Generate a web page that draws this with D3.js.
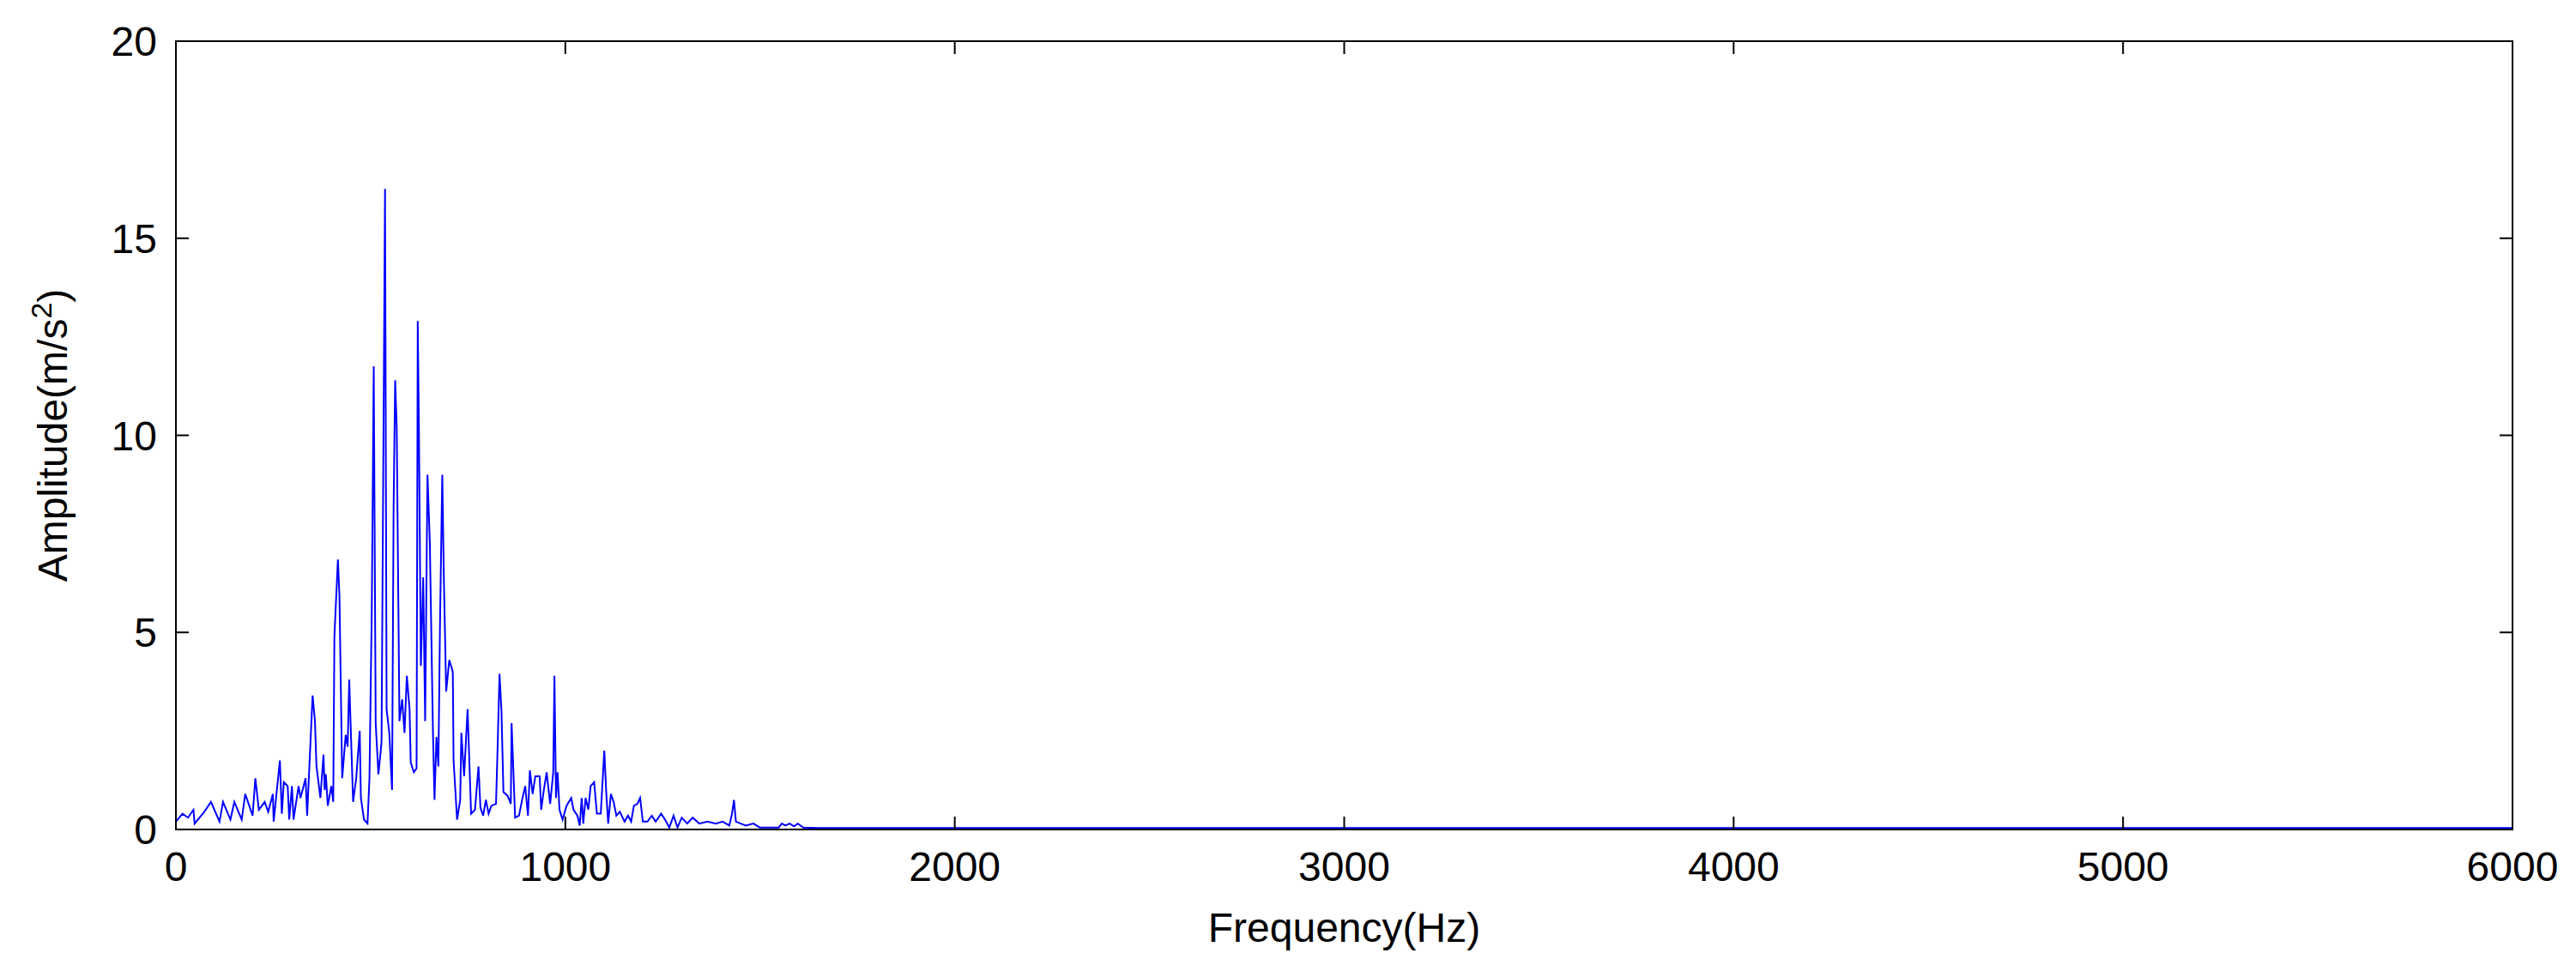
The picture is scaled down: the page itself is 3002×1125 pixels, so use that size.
<!DOCTYPE html>
<html><head><meta charset="utf-8">
<script src="https://cdn.jsdelivr.net/npm/d3@7"></script>
<style>body{margin:0;background:#fff}</style></head>
<body><svg id="c" width="3002" height="1125"></svg>
<script>
const freqs=[0,17,31,45,48,73,90,112,121,140,150,169,178,197,204,213,228,237,249,251,267,272,277,287,291,298,302,315,320,333,337,351,357,361,371,379,382,385,390,399,404,407,416,420,427,436,441,445,455,463,472,475,483,492,497,503,508,513,520,528,534,537,541,548,555,559,563,567,574,581,587,593,600,603,611,618,621,624,629,635,640,646,652,660,664,669,674,678,684,688,694,702,711,713,722,730,733,740,749,758,768,777,782,789,796,803,810,822,826,831,836,841,852,860,862,871,881,890,897,904,909,916,923,934,938,944,952,961,969,972,976,980,985,993,1003,1015,1021,1031,1037,1042,1046,1052,1059,1065,1074,1081,1091,1100,1105,1110,1117,1124,1131,1140,1152,1161,1169,1176,1185,1192,1199,1211,1222,1232,1246,1256,1267,1278,1288,1299,1313,1327,1344,1365,1386,1404,1421,1428,1433,1438,1463,1483,1499,1548,1556,1565,1576,1587,1597,1611,1650,6000];
const amps=[0.2,0.4,0.3,0.5,0.15,0.45,0.7,0.2,0.7,0.25,0.7,0.25,0.9,0.35,1.3,0.5,0.7,0.45,0.9,0.2,1.75,0.4,1.2,1.1,0.25,1.1,0.25,1.1,0.8,1.3,0.35,3.4,2.75,1.6,0.8,1.9,1.0,1.4,0.6,1.1,0.7,4.9,6.85,5.9,1.3,2.4,2.1,3.8,0.7,1.3,2.5,0.8,0.25,0.15,1.3,5.6,11.75,2.7,1.4,2.2,11.55,16.25,3.05,2.45,1.0,8.2,11.4,10.2,2.75,3.3,2.45,3.9,3.05,1.7,1.45,1.55,12.9,10.2,4.15,6.4,2.75,9.0,7.3,2.5,0.75,2.35,1.6,5.1,9.0,6.4,3.5,4.3,4.0,1.75,0.25,0.75,2.45,1.35,3.05,0.4,0.5,1.6,0.55,0.35,0.75,0.4,0.6,0.65,2.05,3.95,3.0,0.95,0.85,0.65,2.7,0.3,0.35,0.8,1.1,0.35,1.5,0.9,1.35,1.35,0.5,0.95,1.45,0.65,1.45,3.9,0.8,1.45,0.5,0.25,0.6,0.8,0.5,0.35,0.1,0.8,0.15,0.8,0.5,1.1,1.2,0.4,0.4,2.0,0.95,0.15,0.9,0.7,0.35,0.45,0.2,0.35,0.2,0.6,0.65,0.8,0.2,0.2,0.35,0.2,0.4,0.25,0.05,0.35,0.05,0.3,0.15,0.3,0.15,0.2,0.15,0.2,0.1,0.4,0.75,0.2,0.1,0.15,0.05,0.05,0.15,0.1,0.15,0.08,0.15,0.05,0.04,0.04];
const xTicks=[0,1000,2000,3000,4000,5000,6000];
const yTicks=[0,5,10,15,20];
const L=205,R=2928,T=48,B=967;
const svg=d3.select("#c");
const x=d3.scaleLinear().domain([0,6000]).range([L,R]);
const y=d3.scaleLinear().domain([0,20]).range([B,T]);
const pts=freqs.map((f,i)=>[f,amps[i]]);
svg.append("path").datum(pts).attr("fill","none").attr("stroke","#0000ff").attr("stroke-width",2)
 .attr("d",d3.line().x(d=>x(d[0])).y(d=>y(d[1])));
const font="Arial, 'Liberation Sans', sans-serif";
const tl=15, fs=48;
const g=svg.append("g").attr("stroke","#000").attr("stroke-width",2);
g.append("rect").attr("x",L).attr("y",T).attr("width",R-L).attr("height",B-T).attr("fill","none");
xTicks.forEach(t=>{g.append("line").attr("x1",x(t)).attr("x2",x(t)).attr("y1",B).attr("y2",B-tl);
 g.append("line").attr("x1",x(t)).attr("x2",x(t)).attr("y1",T).attr("y2",T+tl);});
yTicks.forEach(t=>{g.append("line").attr("x1",L).attr("x2",L+tl).attr("y1",y(t)).attr("y2",y(t));
 g.append("line").attr("x1",R).attr("x2",R-tl).attr("y1",y(t)).attr("y2",y(t));});
svg.selectAll(".xt").data(xTicks).enter().append("text").attr("x",d=>x(d)).attr("y",B+60)
 .attr("text-anchor","middle").attr("font-family",font).attr("font-size",fs).text(d=>d);
svg.selectAll(".yt").data(yTicks).enter().append("text").attr("x",L-22).attr("y",d=>y(d)+17)
 .attr("text-anchor","end").attr("font-family",font).attr("font-size",fs).text(d=>d);
svg.append("text").attr("x",(L+R)/2).attr("y",1098).attr("text-anchor","middle").attr("font-family",font)
 .attr("font-size",fs).text("Frequency(Hz)");
const yt=svg.append("text").attr("transform",`translate(78,${(T+B)/2}) rotate(-90)`).attr("text-anchor","middle")
 .attr("font-family",font).attr("font-size",fs);
yt.append("tspan").text("Amplitude(m/s");
yt.append("tspan").attr("font-size",34).attr("dy",-18).text("2");
yt.append("tspan").attr("dy",18).text(")");
</script></body></html>
